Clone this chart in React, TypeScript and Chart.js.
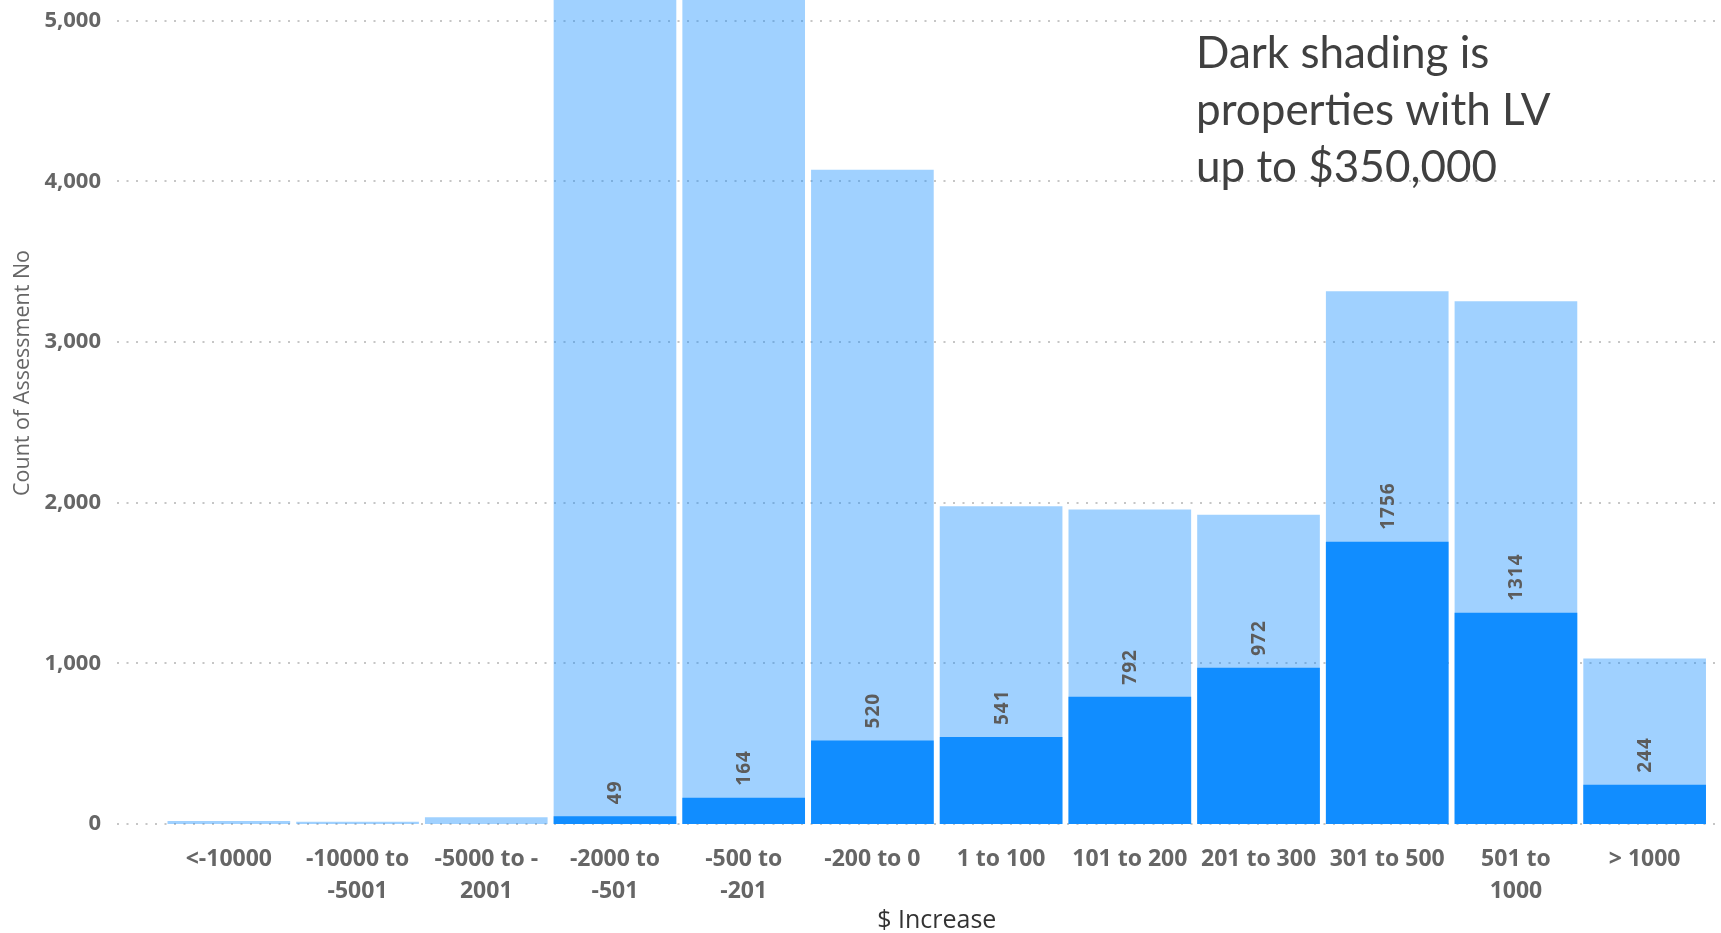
import { useEffect, useRef } from "react";
import { Chart, registerables } from "chart.js";

Chart.register(...registerables);

// $ increase bands along the x axis
const categories: string[][] = [
  ["<-10000"],
  ["-10000 to", "-5001"],
  ["-5000 to -", "2001"],
  ["-2000 to", "-501"],
  ["-500 to", "-201"],
  ["-200 to 0"],
  ["1 to 100"],
  ["101 to 200"],
  ["201 to 300"],
  ["301 to 500"],
  ["501 to", "1000"],
  ["> 1000"],
];

// Count of assessments in each band (all properties)
const allProperties = [18, 14, 42, 6850, 6510, 4072, 1978, 1958, 1924, 3315, 3254, 1030];

// Count of assessments in each band for properties with LV up to $350,000
const lvUpTo350k = [0, 0, 0, 49, 164, 520, 541, 792, 972, 1756, 1314, 244];

const yTicks = [0, 1000, 2000, 3000, 4000, 5000];
const yMax = 5128;

const noteLines = ["Dark shading is", "properties with LV", "up to $350,000"];

const DARK = "#118DFF";
const LIGHT = "rgba(17, 141, 255, 0.4)";
const AXIS_GREY = "#666666";

const decorPlugin = {
  id: "decor",
  beforeDatasetsDraw(chart: any) {
    const { ctx } = chart;
    const y = chart.scales.y;
    ctx.save();
    ctx.strokeStyle = "#c6c6c6";
    ctx.lineWidth = 2;
    ctx.setLineDash([2, 7.5]);
    for (const v of yTicks) {
      const py = Math.round(y.getPixelForValue(v));
      ctx.beginPath();
      ctx.moveTo(117, py);
      ctx.lineTo(chart.width, py);
      ctx.stroke();
    }
    ctx.restore();
  },
  afterDatasetsDraw(chart: any) {
    const { ctx } = chart;
    const meta = chart.getDatasetMeta(0);
    ctx.save();
    ctx.font = "bold 19px 'Open Sans'";
    ctx.fillStyle = "#5c5c5c";
    ctx.textAlign = "left";
    ctx.textBaseline = "middle";
    (ctx as any).letterSpacing = "1px";
    meta.data.forEach((bar: any, i: number) => {
      const v = lvUpTo350k[i];
      if (!v) return;
      ctx.save();
      ctx.translate(bar.x + 1, bar.y - 12);
      ctx.rotate(-Math.PI / 2);
      ctx.fillText(String(v), 0, 0);
      ctx.restore();
    });
    (ctx as any).letterSpacing = "0px";
    ctx.restore();
  },
  afterDraw(chart: any) {
    const { ctx } = chart;
    ctx.save();
    // y-axis title
    ctx.translate(23, 373);
    ctx.rotate(-Math.PI / 2);
    ctx.font = "21.5px 'Open Sans'";
    ctx.fillStyle = AXIS_GREY;
    ctx.textAlign = "center";
    ctx.textBaseline = "middle";
    ctx.fillText("Count of Assessment No", 0, 0);
    ctx.restore();

    // note in the top right
    ctx.save();
    ctx.font = "44px Lato";
    ctx.fillStyle = "#404040";
    ctx.textAlign = "left";
    ctx.textBaseline = "alphabetic";
    noteLines.forEach((line, i) => {
      ctx.fillText(line, 1196, 68 + i * 57);
    });
    ctx.restore();
  },
};

export default function App() {
  const canvasRef = useRef<HTMLCanvasElement | null>(null);

  useEffect(() => {
    const canvas = canvasRef.current;
    if (!canvas) return;
    let alive = true;

    const chart = new Chart(canvas, {
      type: "bar",
      data: {
        labels: categories,
        datasets: [
          {
            label: "LV up to $350,000",
            data: lvUpTo350k,
            backgroundColor: DARK,
            borderWidth: 0,
            grouped: false,
            order: 0,
            barPercentage: 0.953,
            categoryPercentage: 1,
          },
          {
            label: "All properties",
            data: allProperties,
            backgroundColor: LIGHT,
            borderWidth: 0,
            grouped: false,
            order: 1,
            barPercentage: 0.953,
            categoryPercentage: 1,
          },
        ],
      },
      options: {
        responsive: false,
        animation: false,
        devicePixelRatio: 1,
        layout: { padding: { left: 0, right: 12, top: 0, bottom: 0 } },
        plugins: {
          legend: { display: false },
          tooltip: { enabled: false },
        },
        scales: {
          x: {
            type: "category",
            offset: true,
            grid: { display: false, drawTicks: false },
            border: { display: false },
            ticks: {
              autoSkip: false,
              maxRotation: 0,
              minRotation: 0,
              padding: 19,
              color: AXIS_GREY,
              font: { family: "'Open Sans'", size: 23, weight: "bold", lineHeight: 1.4 },
            },
            title: {
              display: true,
              text: "$ Increase",
              color: "#333333",
              font: { family: "'Open Sans'", size: 25, lineHeight: 0.95 },
              padding: { top: 0, bottom: 0 },
            },
            afterFit(scale: any) {
              scale.height = 109;
              scale.paddingLeft = 0;
              scale.paddingRight = 0;
            },
          },
          y: {
            type: "linear",
            min: 0,
            max: yMax,
            grid: { display: false, drawTicks: false },
            border: { display: false },
            afterBuildTicks(scale: any) {
              scale.ticks = yTicks.map((v) => ({ value: v }));
            },
            ticks: {
              padding: 63.5,
              color: AXIS_GREY,
              font: { family: "'Open Sans'", size: 22, weight: "bold" },
              callback: (v: any) => Number(v).toLocaleString("en-US"),
            },
            afterFit(scale: any) {
              scale.width = 164.5;
              scale.paddingTop = 0;
              scale.paddingBottom = 0;
            },
          },
        },
      },
      plugins: [decorPlugin],
    } as any);

    const fonts = (document as any).fonts;
    if (fonts && fonts.load) {
      Promise.all([
        fonts.load("bold 22px 'Open Sans'"),
        fonts.load("20px 'Open Sans'"),
        fonts.load("44px Lato"),
      ])
        .then(() => {
          if (alive) chart.update();
        })
        .catch(() => {});
    }

    return () => {
      alive = false;
      chart.destroy();
    };
  }, []);

  return (
    <div
      style={{
        position: "fixed",
        left: 0,
        top: 0,
        width: 1721,
        height: 933,
        background: "#ffffff",
      }}
    >
      <canvas ref={canvasRef} width={1721} height={933} style={{ width: 1721, height: 933 }} />
    </div>
  );
}
